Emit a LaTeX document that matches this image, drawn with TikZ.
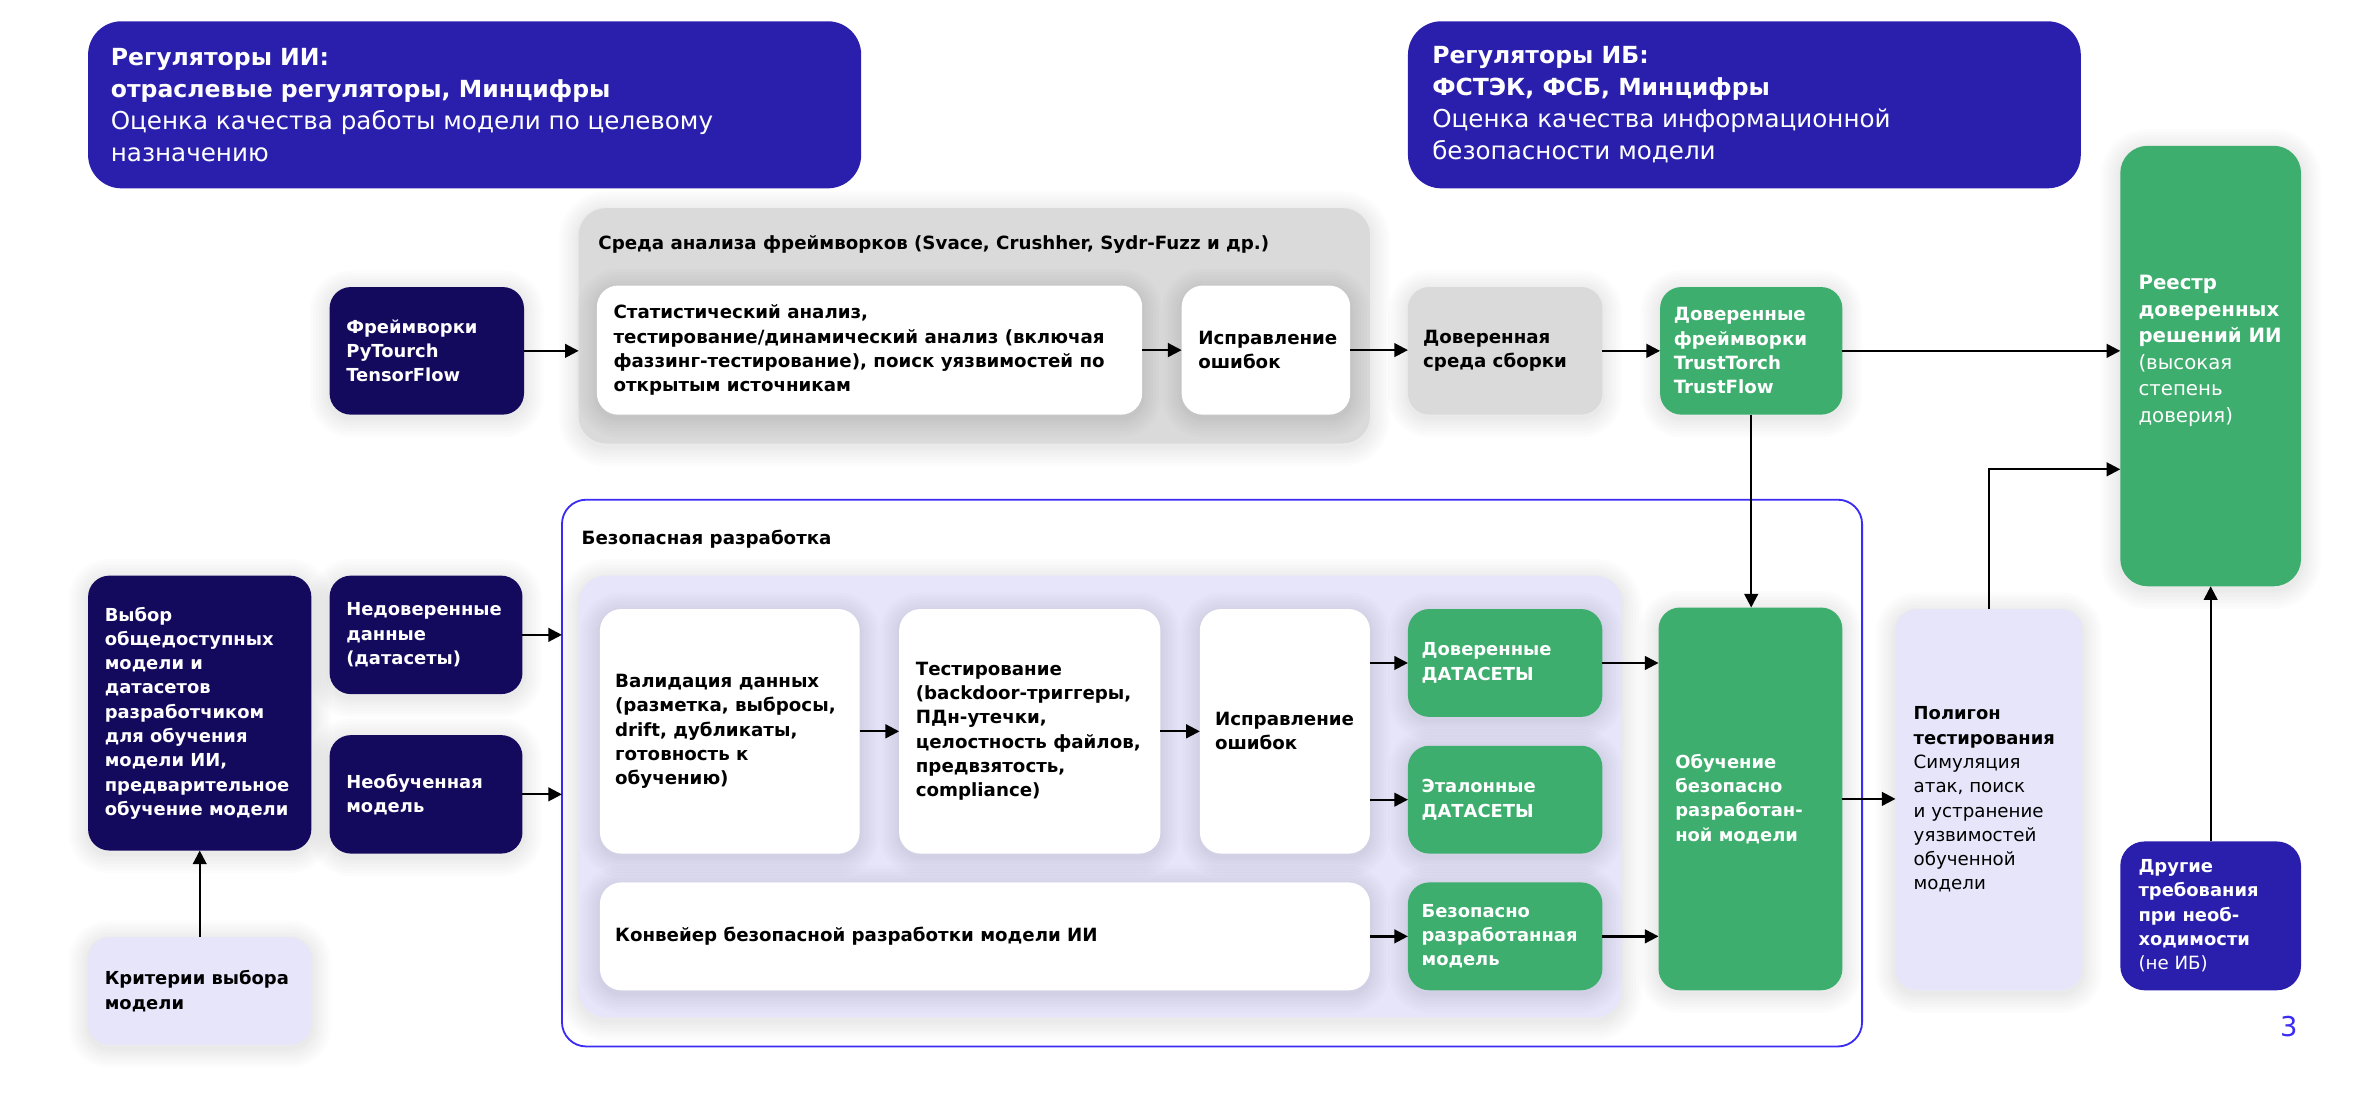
\documentclass[tikz,border=0pt]{standalone}
\usepackage{fontspec}
\setmainfont{DejaVu Sans}
\usetikzlibrary{arrows.meta}
\definecolor{hdr}{HTML}{2A1FAD}
\definecolor{navy}{HTML}{130A5E}
\definecolor{grn}{HTML}{3DAE6E}
\definecolor{gry}{HTML}{DADADA}
\definecolor{lav}{HTML}{E7E5FA}
\definecolor{bfr}{HTML}{3A2BF5}
\newcommand\fH{\fontsize{11.8}{16}\selectfont\bfseries}
\newcommand\fB{\fontsize{12}{16}\selectfont\bfseries}
\newcommand\fR{\fontsize{12}{16}\selectfont\mdseries}
\newcommand\bx[6]{\node[#1,minimum width={#5-#3},minimum height={#6-#4}] (#2) at ({(#3+#5)/2},{(#4+#6)/2}) {};}
\begin{document}
\begin{tikzpicture}[x=1pt,y=-1pt,
  box/.style={rectangle,rounded corners=14pt,inner sep=0pt,outer sep=0pt},
  sl/.style={preaction={draw=black,draw opacity=0.011,line width=#1,transform canvas={yshift=-2pt}}},
  shd/.style={sl=26pt,sl=22pt,sl=18pt,sl=14pt,sl=10pt,sl=6pt,sl=3pt},
  hdrbox/.style={box,fill=hdr,rounded corners=22pt},
  navybox/.style={box,shd,fill=navy},
  grnbox/.style={box,shd,fill=grn},
  grybox/.style={box,shd,fill=gry},
  whtbox/.style={box,shd,fill=white},
  lavbox/.style={box,shd,fill=lav},
  txt/.style={anchor=west,align=left,inner sep=0pt,outer sep=0pt,font=\fH},
  wtxt/.style={txt,text=white},
  btxt/.style={txt,text=black},
  arr/.style={line width=1.5pt,-{Triangle[length=9pt,width=9pt]}},
]
\useasboundingbox[fill=white] (0,0) rectangle (1567,725.6);

% boxes
\bx{hdrbox}{h1}{58}{14}{567}{124}
\bx{hdrbox}{h2}{927}{14}{1370}{124}
\bx{grnbox,rounded corners=18pt}{reg}{1396}{96}{1515}{386}
\bx{grybox,rounded corners=18pt}{gframe}{381}{137}{902}{292}
\bx{navybox}{fw}{217}{189}{345}{273}
\bx{whtbox}{sa}{393}{188}{752}{273}
\bx{whtbox}{fixa}{778}{188}{889}{273}
\bx{grybox}{build}{927}{189}{1055}{273}
\bx{grnbox}{tf}{1093}{189}{1213}{273}
\bx{box,draw=bfr,line width=1.2pt,fill=white,rounded corners=16pt}{sdev}{370}{329}{1226}{689}
\bx{lavbox,rounded corners=18pt}{panel}{381}{379}{1068}{670}
\bx{whtbox}{val}{395}{401}{566}{562}
\bx{whtbox}{test}{592}{401}{764}{562}
\bx{whtbox}{fixb}{790}{401}{902}{562}
\bx{whtbox}{conv}{395}{581}{902}{652}
\bx{grnbox}{tds}{927}{401}{1055}{472}
\bx{grnbox}{eds}{927}{491}{1055}{562}
\bx{grnbox}{smod}{927}{581}{1055}{652}
\bx{grnbox}{train}{1092}{400}{1213}{652}
\bx{lavbox}{poly}{1248}{401}{1371}{652}
\bx{hdrbox,rounded corners=16pt}{oth}{1396}{554}{1515}{652}
\bx{navybox}{choice}{58}{379}{205}{560}
\bx{navybox}{ud}{217}{379}{344}{457}
\bx{navybox}{um}{217}{484}{344}{562}
\bx{lavbox}{crit}{58}{617}{205}{688}

% texts
\node[wtxt,font=\fontsize{16.2}{21}\selectfont] (h1t) at ([xshift=15pt]h1.west)
  {{\fontsize{15.5}{21}\selectfont\bfseries Регуляторы ИИ:}\\{\fontsize{15.5}{21}\selectfont\bfseries отраслевые регуляторы, Минцифры}\\Оценка качества работы модели по целевому\\назначению};
\node[wtxt,font=\fontsize{16.2}{21}\selectfont] (h2t) at ([xshift=16pt]h2.west)
  {{\fontsize{15.5}{21}\selectfont\bfseries Регуляторы ИБ:}\\{\fontsize{15.5}{21}\selectfont\bfseries ФСТЭК, ФСБ, Минцифры}\\Оценка качества информационной\\безопасности модели};
\node[wtxt,font=\fontsize{13}{17.5}\selectfont] (regt) at ([xshift=12pt,yshift=10pt]reg.west)
  {\textbf{Реестр}\\\textbf{доверенных}\\\textbf{решений ИИ}\\(высокая\\степень\\доверия)};
\node[btxt,font=\fB] (gft) at (394,161) {Среда анализа фреймворков (Svace, Crushher, Sydr-Fuzz и др.)};
\node[wtxt] (fwt) at ([xshift=11pt]fw.west) {Фреймворки\\PyTourch\\TensorFlow};
\node[btxt,font=\fB] (sat) at ([xshift=11pt]sa.west)
  {Статистический анализ,\\тестирование/динамический анализ (включая\\фаззинг-тестирование), поиск уязвимостей по\\открытым источникам};
\node[btxt,font=\fB] (fixat) at ([xshift=11pt]fixa.west) {Исправление\\ошибок};
\node[btxt,font=\fB] (buildt) at ([xshift=10pt]build.west) {Доверенная\\среда сборки};
\node[wtxt,font=\fB] (tft) at ([xshift=9pt]tf.west) {Доверенные\\фреймворки\\TrustTorch\\TrustFlow};
\node[btxt,font=\fB] (sdevt) at (383,355) {Безопасная разработка};
\node[btxt,font=\fB] (valt) at ([xshift=10pt]val.west)
  {Валидация данных\\(разметка, выбросы,\\drift, дубликаты,\\готовность к\\обучению)};
\node[btxt,font=\fB] (testt) at ([xshift=11pt]test.west)
  {Тестирование\\(backdoor-триггеры,\\ПДн-утечки,\\целостность файлов,\\предвзятость,\\compliance)};
\node[btxt,font=\fB] (fixbt) at ([xshift=10pt]fixb.west) {Исправление\\ошибок};
\node[btxt,font=\fB] (convt) at ([xshift=10pt]conv.west) {Конвейер безопасной разработки модели ИИ};
\node[wtxt] (tdst) at ([xshift=9pt]tds.west) {Доверенные\\ДАТАСЕТЫ};
\node[wtxt] (edst) at ([xshift=9pt]eds.west) {Эталонные\\ДАТАСЕТЫ};
\node[wtxt] (smodt) at ([xshift=9pt]smod.west) {Безопасно\\разработанная\\модель};
\node[wtxt] (traint) at ([xshift=11pt]train.west) {Обучение\\безопасно\\разработан-\\ной модели};
\node[btxt,font=\fR] (polyt) at ([xshift=12pt]poly.west)
  {{\fH Полигон}\\{\fH тестирования}\\Симуляция\\атак, поиск\\и устранение\\уязвимостей\\обученной\\модели};
\node[wtxt] (otht) at ([xshift=12pt]oth.west)
  {Другие\\требования\\при необ-\\ходимости\\{\fR (не ИБ)}};
\node[wtxt] (choicet) at ([xshift=11pt]choice.west)
  {Выбор\\общедоступных\\модели и\\датасетов\\разработчиком\\для обучения\\модели ИИ,\\предварительное\\обучение модели};
\node[wtxt] (udt) at ([xshift=11pt]ud.west) {Недоверенные\\данные\\(датасеты)};
\node[wtxt] (umt) at ([xshift=11pt]um.west) {Необученная\\модель};
\node[btxt] (critt) at ([xshift=11pt]crit.west) {Критерии выбора\\модели};
\node[text=bfr,font=\fontsize{18}{20}\selectfont,inner sep=0pt] (pg) at (1507,676) {3};

% connectors
\draw[arr] (fw.east) -- (fw.east -| gframe.west);
\draw[arr] (sa.east) -- (sa.east -| fixa.west);
\draw[arr] (fixa.east) -- (fixa.east -| build.west);
\draw[arr] (build.east) -- (build.east -| tf.west);
\draw[arr] (tf.east) -- (tf.east -| reg.west);
\draw[arr] (tf.south) -- (tf.south |- train.north);
\draw[arr] (ud.east) -- (ud.east -| sdev.west);
\draw[arr] (um.east) -- (um.east -| sdev.west);
\draw[arr] (val.east) -- (val.east -| test.west);
\draw[arr] (test.east) -- (test.east -| fixb.west);
\draw[arr] (fixb.east |- tds.west) -- (tds.west);
\draw[arr] (fixb.east |- eds.west) -- (eds.west);
\draw[arr] (conv.east) -- (conv.east -| smod.west);
\draw[arr] (tds.east) -- (tds.east -| train.west);
\draw[arr] (smod.east) -- (smod.east -| train.west);
\draw[arr] (train.east) -- (train.east -| poly.west);
\coordinate (kink) at (1310,309);
\draw[arr] (poly.north) |- (kink -| reg.west);
\draw[arr] (oth.north) -- (oth.north |- reg.south);
\draw[arr] (crit.north) -- (crit.north |- choice.south);
\end{tikzpicture}
\end{document}
